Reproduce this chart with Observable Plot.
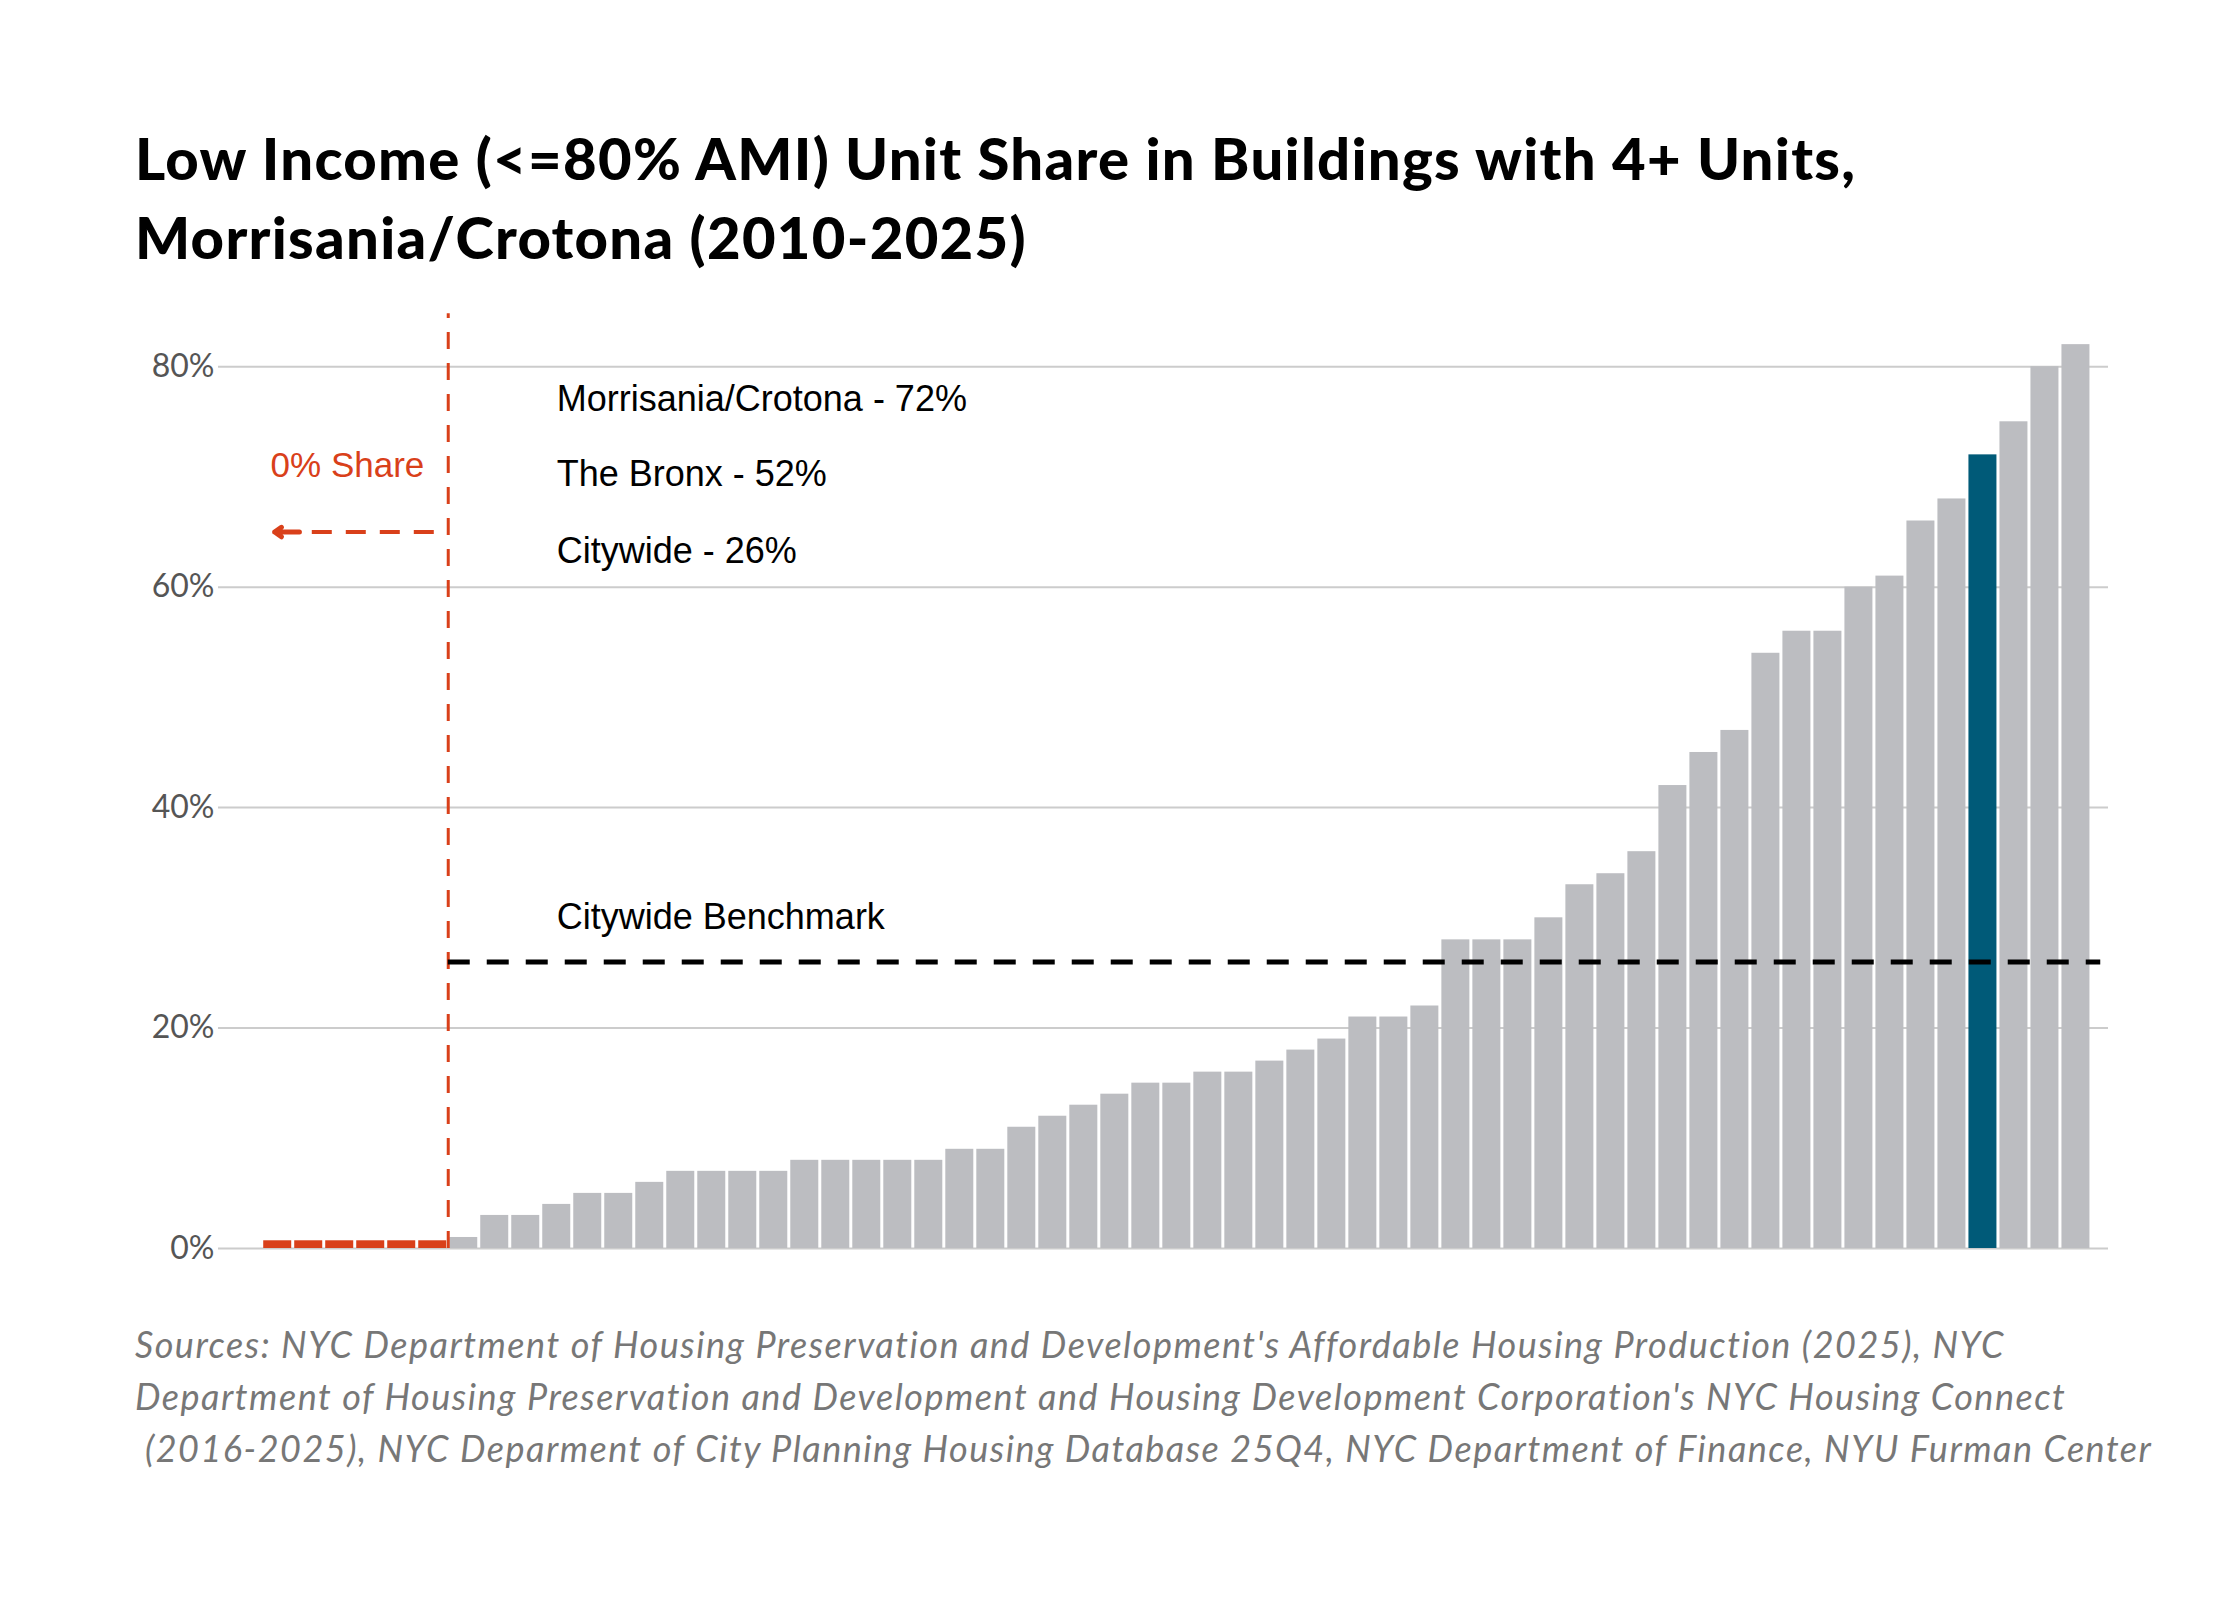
<!DOCTYPE html>
<html><head><meta charset="utf-8">
<script src="https://cdn.jsdelivr.net/npm/d3@7"></script>
<script src="https://cdn.jsdelivr.net/npm/@observablehq/plot@0.6"></script>
<style>
body{margin:0;background:#fff;width:2240px;}
#title{font-family:Lato,"Open Sans",sans-serif;font-weight:900;font-size:58px;letter-spacing:1.3px;line-height:79px;color:#000;padding:118px 0 0 135px;height:150px;}
#cap{font-family:Lato,"Open Sans",sans-serif;font-style:italic;font-size:36px;letter-spacing:1.5px;line-height:52px;color:#777;padding:60px 0 0 135px;white-space:pre;}
</style></head><body>
<div id="title">Low Income (&lt;=80% AMI) Unit Share in Buildings with 4+ Units,<br>Morrisania/Crotona (2010-2025)</div>
<div id="chart"></div>
<div id="cap">Sources: NYC Department of Housing Preservation and Development's Affordable Housing Production (2025), NYC
Department of Housing Preservation and Development and Housing Development Corporation's NYC Housing Connect
 (2016-2025), NYC Deparment of City Planning Housing Database 25Q4, NYC Department of Finance, NYU Furman Center</div>
<script>
const zeroCount = 6;
const shares = [1,3,3,4,5,5,6,7,7,7,7,8,8,8,8,8,9,9,11,12,13,14,15,15,16,16,17,18,19,21,21,22,28,28,28,30,33,34,36,42,45,47,54,56,56,60,61,66,68,72,75,80,82];
const highlightValue = 72;
const benchmark = 26;
const yTicks = [0,20,40,60,80];
const notes = [{t:"Morrisania/Crotona - 72%", y:77},{t:"The Bronx - 52%", y:70.2},{t:"Citywide - 26%", y:63.2},{t:"Citywide Benchmark", y:30}];

const zeros = d3.range(zeroCount).map(i => ({i, v:0.7}));
const bars = shares.map((v,k) => ({i: zeroCount + k, v, hi: v === highlightValue}));
const n = zeroCount + shares.length;
const RED = "#d9401a";
const ANN = "Liberation Sans, Arial, sans-serif";

const chart = Plot.plot({
  width: 2240, height: 990,
  marginLeft: 218, marginRight: 132, marginTop: 10, marginBottom: 10,
  x: {domain: [-1.41, n + 0.55], axis: null},
  y: {domain: [0, 88], label: null},
  style: {fontFamily: "Lato, sans-serif", fontSize: "32px", color: "#555", overflow: "visible"},
  marks: [
    Plot.gridY(yTicks, {stroke: "#ccc", strokeOpacity: 1, strokeWidth: 2}),
    Plot.axisY(yTicks, {tickSize: 0, tickFormat: d => d + "%", fontSize: 32, fill: "#555", tickPadding: 4}),
    Plot.rectY(bars, {x1: d => d.i, x2: d => d.i + 1, y: "v", fill: d => d.hi ? "#005a78" : "#bcbdc1", insetLeft: 1.5, insetRight: 1.5}),
    Plot.rectY(zeros, {x1: d => d.i, x2: d => d.i + 1, y: "v", fill: RED, insetLeft: 1.5, insetRight: 1.5}),
    Plot.ruleX([zeroCount], {y1: 0, y2: 84.8, stroke: RED, strokeWidth: 3, strokeDasharray: "17,14"}),
    Plot.ruleY([benchmark], {x1: zeroCount, x2: n + 0.3, stroke: "#000", strokeWidth: 5, strokeDasharray: "22,17"}),
    Plot.ruleY([65], {x1: 5.55, x2: 0.9, stroke: RED, strokeWidth: 4, strokeDasharray: "20,14"}),
    Plot.arrow([{a:1.2, b:0.4, y:65}], {x1:"a", x2:"b", y1:"y", y2:"y", stroke: RED, strokeWidth: 5, headLength: 22, headAngle: 70}),
    Plot.text(["0% Share"], {x: 2.75, y: 71, fill: RED, fontSize: 35, fontFamily: ANN}),
    Plot.text(notes, {x: 9.5, y: "y", text: "t", textAnchor: "start", fill: "#000", fontSize: 36, fontFamily: ANN})
  ]
});
document.getElementById("chart").append(chart);
</script>
</body></html>
